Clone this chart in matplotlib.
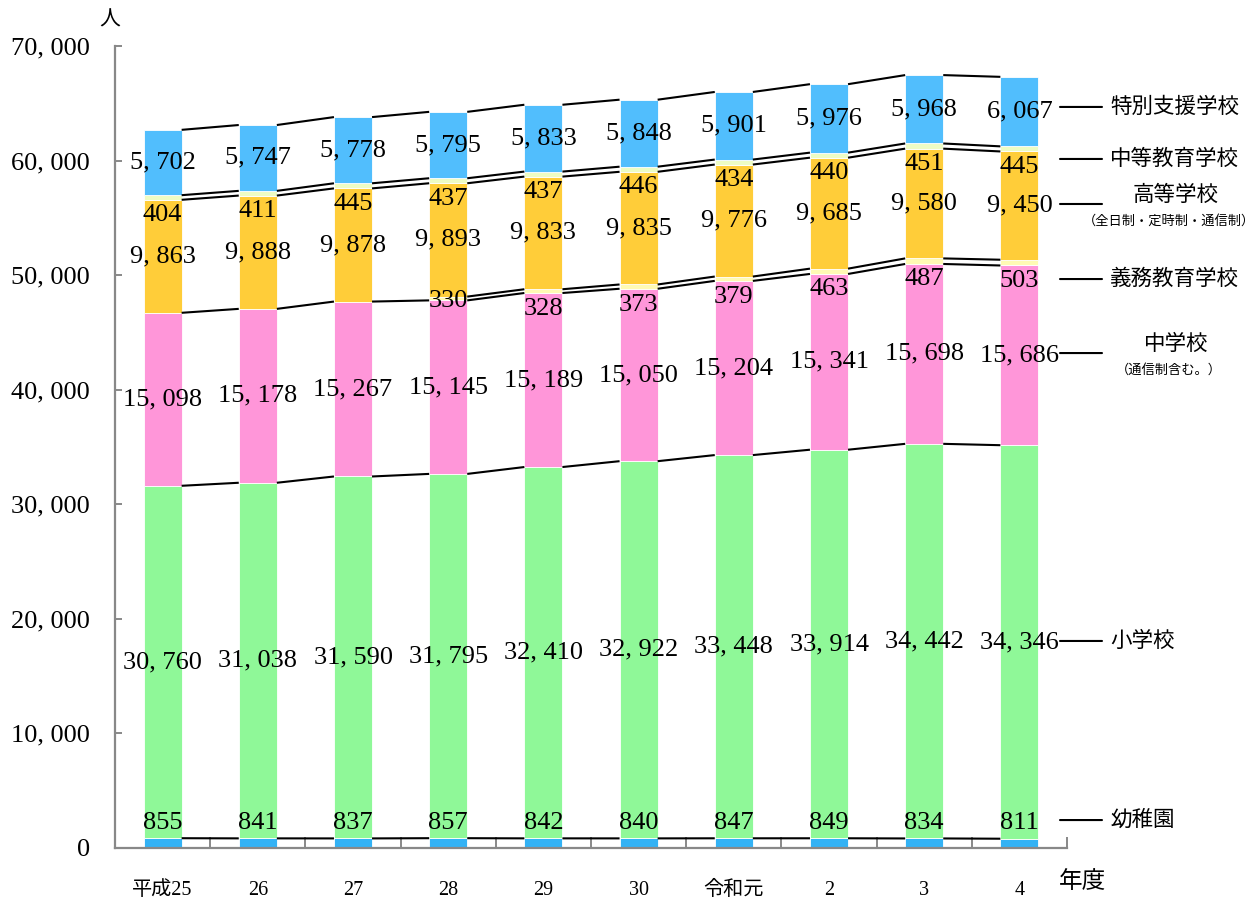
import numpy as np
import matplotlib
matplotlib.use("Agg")
import matplotlib.pyplot as plt
from matplotlib.ticker import FuncFormatter, FixedLocator

plt.rcParams['font.family'] = ['Liberation Serif', 'Noto Sans CJK JP', 'DejaVu Sans']

years = ['平成25', '26', '27', '28', '29', '30', '令和元', '2', '3', '4']

# 下から積み上げる順
kinder = [855, 841, 837, 857, 842, 840, 847, 849, 834, 811]
elem = [30760, 31038, 31590, 31795, 32410, 32922, 33448, 33914, 34442, 34346]
junior = [15098, 15178, 15267, 15145, 15189, 15050, 15204, 15341, 15698, 15686]
compulsory = [None, None, None, 330, 328, 373, 379, 463, 487, 503]
high = [9863, 9888, 9878, 9893, 9833, 9835, 9776, 9685, 9580, 9450]
secondary = [404, 411, 445, 437, 437, 446, 434, 440, 451, 445]
special = [5702, 5747, 5778, 5795, 5833, 5848, 5901, 5976, 5968, 6067]

series = [
    ('幼稚園', kinder, '#33B2F5'),
    ('小学校', elem, '#8FF898'),
    ('中学校', junior, '#FF96D9'),
    ('義務教育学校', compulsory, '#FFFAB4'),
    ('高等学校', high, '#FFCD39'),
    ('中等教育学校', secondary, '#EEFCC4'),
    ('特別支援学校', special, '#51BEFD'),
]

# ラベルの上下ずらし(px)  Excelで手で動かしたもの
label_shift = {'幼稚園': 20, '義務教育学校': -18, '中等教育学校': -18}
label_fix = {('義務教育学校', 3): -3}

# 右側の凡例代わりの文字 (y はデータ単位)
side_labels = [
    ('特別支援学校', None, 64680),
    ('中等教育学校', None, 60140),
    ('高等学校', '（全日制・定時制・通信制）', 56210),
    ('義務教育学校', None, 49660),
    ('中学校', '（通信制含む。）', 43200),
    ('小学校', None, 18070),
    ('幼稚園', None, 2440),
]

fig = plt.figure(figsize=(12.6, 8.98), dpi=100)
ax = fig.add_axes([115 / 1260, 50 / 898, 952 / 1260, 802 / 898])

x = np.arange(len(years))
w = 0.4
px = 72 / 100  # px -> pt

bottom = np.zeros(len(years))
tops = []
for name, vals, col in series:
    v = np.array([np.nan if a is None else a for a in vals], dtype=float)
    h = np.nan_to_num(v)
    ax.bar(x, h, w, bottom=bottom, color=col, edgecolor='white', linewidth=0.6, zorder=2)
    for i in range(len(years)):
        if np.isnan(v[i]):
            continue
        dy = label_fix.get((name, i), label_shift.get(name, 0))
        ax.annotate(f'{int(v[i]):,}'.replace(',', ', '),
                    (x[i], bottom[i] + h[i] / 2), xytext=(0, dy * px),
                    textcoords='offset points', ha='center', va='center',
                    fontsize=19, family='Liberation Serif', zorder=5)
    top = bottom + h
    tops.append(np.where(np.isnan(v), np.nan, top))
    bottom = top

# 系列線
for t in tops:
    for i in range(len(years) - 1):
        if np.isnan(t[i]) or np.isnan(t[i + 1]):
            continue
        ax.plot([x[i] + w / 2, x[i + 1] - w / 2], [t[i], t[i + 1]],
                color='black', lw=1.5, zorder=3, solid_capstyle='butt')

ax.set_xlim(-0.5, len(years) - 0.5)
ax.set_ylim(0, 70000)
ax.yaxis.set_major_locator(FixedLocator(np.arange(0, 70001, 10000)))
ax.yaxis.set_major_formatter(FuncFormatter(lambda v, p: f'{int(v):,}'.replace(',', ', ')))

ax.set_xticks(x)
ax.set_xticklabels(years)
ax.set_xticks(np.arange(-0.5, len(years), 1.0), minor=True)

for s in ['top', 'right']:
    ax.spines[s].set_visible(False)
for s in ['left', 'bottom']:
    ax.spines[s].set_color('#888888')
    ax.spines[s].set_linewidth(1.6)

ax.tick_params(axis='y', direction='in', length=5, width=1.4, color='#888888',
               labelsize=19, pad=18)
ax.tick_params(axis='x', which='major', length=0, labelsize=14.5, pad=24)
ax.tick_params(axis='x', which='minor', direction='in', length=8, width=1.4, color='#888888')
for lab in ax.get_xticklabels():
    lab.set_family(['Liberation Serif', 'Noto Sans CJK JP'])

fig.text(110 / 1260, 1 - 20 / 898, '人', family='Noto Sans CJK JP', fontsize=15,
         ha='center', va='center')
fig.text(1082 / 1260, 1 - 882 / 898, '年度', family='Noto Sans CJK JP', fontsize=17,
         ha='center', va='center')

# 右側ラベル
for name, sub, yv in side_labels:
    ax.annotate('', xy=(1102, yv), xytext=(1060, yv),
                xycoords=('figure pixels', 'data'), textcoords=('figure pixels', 'data'),
                arrowprops=dict(arrowstyle='-', color='black', lw=1.5,
                                shrinkA=0, shrinkB=0), annotation_clip=False)
    if sub is None:
        ax.annotate(name, (1110, yv), xycoords=('figure pixels', 'data'),
                    ha='left', va='center', fontsize=15.5, family='Noto Sans CJK JP',
                    annotation_clip=False)
    else:
        ax.annotate(name, (1176, yv), xycoords=('figure pixels', 'data'),
                    xytext=(0, 9 * px), textcoords='offset points',
                    ha='center', va='center', fontsize=15.5, family='Noto Sans CJK JP',
                    annotation_clip=False)
        ax.annotate(sub, (1169, yv), xycoords=('figure pixels', 'data'),
                    xytext=(0, -17 * px), textcoords='offset points',
                    ha='center', va='center', fontsize=9.5, family='Noto Sans CJK JP',
                    annotation_clip=False)

fig.savefig('out.png', dpi=100)
